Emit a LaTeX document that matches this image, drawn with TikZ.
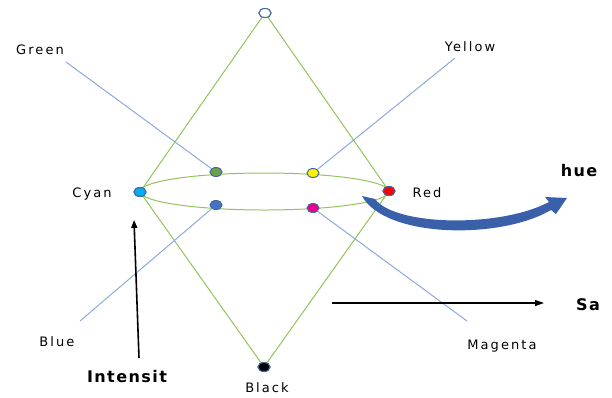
\documentclass[tikz,border=0pt]{standalone}
\usepackage{fontspec}
\setmainfont{DejaVu Sans}
\usetikzlibrary{arrows.meta,shapes.geometric}
\definecolor{cone}{RGB}{146,196,92}
\definecolor{spoke}{RGB}{140,170,220}
\definecolor{rim}{RGB}{70,100,160}
\definecolor{huecol}{RGB}{58,96,170}
\definecolor{dgreen}{RGB}{106,160,70}
\definecolor{dblue}{RGB}{68,114,196}
\tikzset{
  dot/.style={ellipse,draw=rim,line width=1pt,inner sep=0pt,minimum width=12pt,minimum height=9pt},
  lbl/.style={font=\fontsize{13}{15}\selectfont\addfontfeature{LetterSpace=16},inner sep=0pt},
  blbl/.style={font=\fontsize{16}{18}\selectfont\bfseries\addfontfeature{LetterSpace=9},inner sep=0pt},
  conel/.style={draw=cone,line width=1pt},
  spokel/.style={draw=spoke,line width=1pt},
}
\begin{document}
\begin{tikzpicture}[x=1pt,y=-1pt]
\useasboundingbox (0,0) rectangle (612,397);
% ellipse
\draw[conel] (264.5,191.5) ellipse [x radius=124.5pt, y radius=18.5pt];
% coordinates
\coordinate (gE) at (66,62);
\coordinate (yE) at (455,58);
\coordinate (bE) at (80,321);
\coordinate (mE) at (467,321);
% cone nodes
\node[dot,fill=white] (W) at (265,13) {};
\node[dot,fill=cyan] (C) at (140,192) {};
\node[dot,fill=red] (R) at (389,191) {};
\node[dot,fill=black] (K) at (264,367) {};
\node[dot,fill=dgreen] (G) at (216,172) {};
\node[dot,fill=yellow] (Y) at (313,173) {};
\node[dot,fill=dblue] (B) at (216,205) {};
\node[dot,fill=magenta] (M) at (313,208) {};
% cone edges
\draw[conel] (W) -- (C) -- (K) -- (R) -- (W);
% spokes
\draw[spokel] (gE) -- (G);
\draw[spokel] (yE) -- (Y);
\draw[spokel] (bE) -- (B);
\draw[spokel] (M) -- (mE);
% redraw dots on top
\node[dot,fill=white] at (265,13) {};
\node[dot,fill=cyan] at (140,192) {};
\node[dot,fill=red] at (389,191) {};
\node[dot,fill=black] at (264,367) {};
% labels
\node[lbl] (tG) at (40,50) {Green};
\node[lbl] (tY) at (470,47) {Yellow};
\node[lbl] (tC) at (92,194) {Cyan};
\node[lbl] (tR) at (427,193) {Red};
\node[lbl] (tB) at (57,342) {Blue};
\node[lbl] (tM) at (502,346) {Magenta};
\node[lbl] (tK) at (267,388) {Black};
\node[blbl] (tI) at (127,377) {Intensit};
\node[blbl] (tH) at (579,171) {hue};
\node[blbl] (tS) at (588,305) {Sa};
% arrows
\coordinate (i1) at (139,358);
\coordinate (i2) at (134,220);
\draw[line width=1.6pt,-{Triangle[length=8pt,width=6pt]}] (i1) -- (i2);
\coordinate (s1) at (332,303);
\coordinate (s2) at (544,303);
\draw[line width=1.2pt,-{Triangle[length=9pt,width=6pt]}] (s1) -- (s2);
% hue arrow
\fill[huecol] (362,196) .. controls (385,238) and (500,240) .. (551,210)
  -- (556,214) -- (567,198) -- (545,197) -- (549,202)
  .. controls (500,228) and (395,226) .. (375,199) -- cycle;
\end{tikzpicture}
\end{document}
